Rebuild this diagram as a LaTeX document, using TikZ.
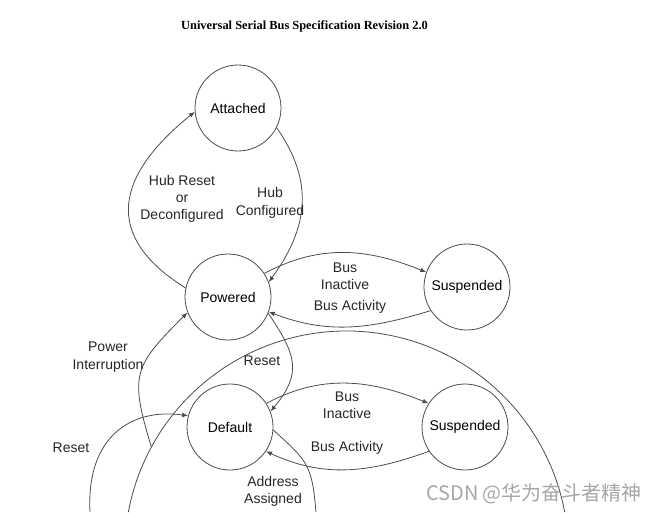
\documentclass[tikz,border=0pt]{standalone}
\usepackage{fontspec}
\setmainfont{Liberation Sans}
\newfontfamily\titlefont{Liberation Serif}
\newfontfamily\cjkfont{Noto Sans CJK SC}
\usetikzlibrary{arrows.meta}
\tikzset{
	state/.style={circle,draw=black!70,line width=.6pt,minimum size=64.5pt,inner sep=0pt,font=\fontsize{10.5}{12}\selectfont},
	trans/.style={draw=black!70,line width=.6pt,-{Latex[length=4.5pt,width=3.6pt]}},
	plain/.style={draw=black!70,line width=.6pt},
	lbl/.style={align=center,inner sep=0pt,font=\fontsize{10.5}{13}\selectfont,text=black!85},
}

\begin{document}
\begin{tikzpicture}[x=.75pt,y=.75pt]
	\useasboundingbox (0,0) rectangle (654,512);
	\clip (0,0) rectangle (654,512);
	\node[font=\titlefont\bfseries\fontsize{9.3}{11}\selectfont] at (304.5,486) (title) {Universal Serial Bus Specification Revision 2.0};
	\node[state] at (238,404) (att) {Attached};
	\node[state] at (228,215) (pow) {Powered};
	\node[state] at (467,225) (susA) {Suspended};
	\node[state] at (230,85) (def) {Default};
	\node[state] at (465,85) (susB) {Suspended};
	\coordinate (ctr) at (346.5,-41);
	\path (ctr) ++(151.5:222) coordinate (pwr);
	\coordinate (rst) at (90,0);
	\coordinate (adr) at (316,0);
	\draw[plain] (ctr) ++(169.4:222) arc[start angle=169.4,end angle=10.6,radius=222];
	\draw[trans] (pow.168) to[out=148,in=219,looseness=1.45] (att.185);
	\draw[trans] (att.333) to[out=-55,in=54,looseness=1.1] (pow.20);
	\draw[trans] (pow.33) to[out=28,in=158] (susA.160);
	\draw[trans] (susA.213) to[out=197,in=-21] (pow.-20);
	\draw[trans] (pwr) to[out=107,in=225,looseness=1.4] (pow.201);
	\draw[trans] (pow.-22) to[out=-56,in=50,looseness=1.3] (def.21);
	\draw[trans] (def.33) to[out=28,in=158] (susB.147);
	\draw[trans] (susB.214) to[out=200,in=-25] (def.-34);
	\draw[trans] (rst) to[out=93,in=172,out looseness=1.4,in looseness=1.07] (def.165);
	\draw[plain] (def.-4) to[out=-42,in=95,looseness=1.3] (adr);
	\node[lbl] at (182,313) (hubrst) {Hub Reset\\or\\Deconfigured};
	\node[lbl] at (270,309) (hubcfg) {Hub\\Configured};
	\node[lbl] at (345,236) (inactA) {Bus\\Inactive};
	\node[lbl] at (350,205) (activA) {Bus Activity};
	\node[lbl] at (108,155) (pwrint) {Power\\Interruption};
	\node[lbl] at (262,151) (rstA) {Reset};
	\node[lbl] at (347,106.5) (inactB) {Bus\\Inactive};
	\node[lbl] at (347,64) (activB) {Bus Activity};
	\node[lbl] at (71,64) (rstB) {Reset};
	\node[lbl] at (273,20.5) (addr) {Address\\Assigned};
	\node[font=\cjkfont\fontsize{15}{18}\selectfont,text=black!35] at (534,18) (mark) {CSDN @华为奋斗者精神};
\end{tikzpicture}
\end{document}
